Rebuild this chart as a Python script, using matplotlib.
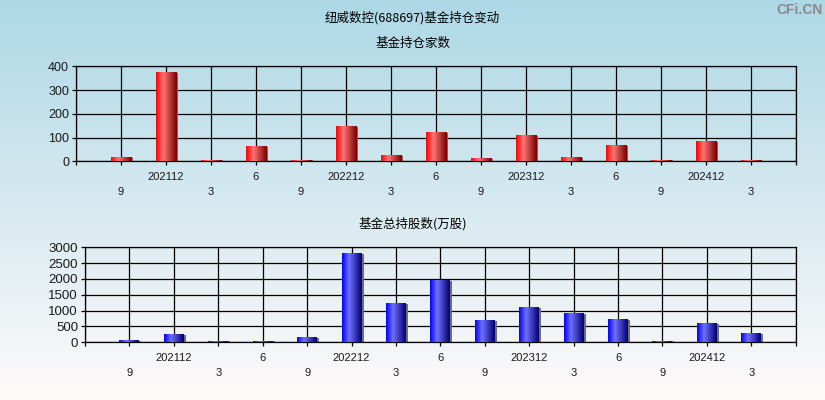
import numpy as np
import matplotlib.pyplot as plt
from matplotlib.colors import LinearSegmentedColormap

plt.rcParams['font.family'] = ['Noto Sans CJK SC', 'DejaVu Sans']

quarters = ['202109', '202112', '202203', '202206', '202209', '202212', '202303', '202306',
            '202309', '202312', '202403', '202406', '202409', '202412', '202503']
tick_labels = ['9', '202112', '3', '6', '9', '202212', '3', '6',
               '9', '202312', '3', '6', '9', '202412', '3']
fund_counts = [13, 372, 4, 60, 4, 146, 22, 119, 9, 106, 14, 64, 4, 81, 3]
fund_shares = [35, 225, 30, 30, 130, 2790, 1210, 1936, 673, 1083, 894, 704, 30, 578, 262]

title = '纽威数控(688697)基金持仓变动'
sub1 = '基金持仓家数'
sub2 = '基金总持股数(万股)'

red_cmap = LinearSegmentedColormap.from_list('r', [(0, '#ff0000'), (0.35, '#ff7575'), (1, '#780000')])
blue_cmap = LinearSegmentedColormap.from_list('b', [(0, '#0000ff'), (0.35, '#7070ff'), (1, '#00006e')])

fig = plt.figure(figsize=(8.25, 4), dpi=100)

# background gradient
bg = fig.add_axes([0, 0, 1, 1], zorder=-10)
grad = np.linspace(0, 1, 256).reshape(-1, 1)
bg_cmap = LinearSegmentedColormap.from_list('bg', ['#add8e6', '#fffafa'])
bg.imshow(grad, cmap=bg_cmap, aspect='auto', extent=(0, 1, 0, 1), origin='upper')
bg.axis('off')

fig.text(0.5, 1 - 18 / 400, title, ha='center', va='center', fontsize=9)
fig.text(0.5, 1 - 43 / 400, sub1, ha='center', va='center', fontsize=9)
fig.text(0.5, 1 - 224 / 400, sub2, ha='center', va='center', fontsize=9)
fig.text(0.997, 1 - 10 / 400, 'CFi.CN', ha='right', va='center', fontsize=10,
         color='#8a8a8a', fontweight='bold', family='Liberation Sans')


def draw_panel(rect, values, ymax, ystep, cmap, ysize):
    ax = fig.add_axes(rect)
    ax.patch.set_alpha(0)
    x = np.arange(len(values))
    w = 0.45
    ax.bar(x + 0.045, values, width=w, color='#6e6e6e', zorder=2)
    bars = ax.bar(x, values, width=w, color='none', zorder=3)
    hgrad = np.linspace(0, 1, 64).reshape(1, -1)
    for b in bars:
        x0, bw, h = b.get_x(), b.get_width(), b.get_height()
        ax.imshow(hgrad, cmap=cmap, aspect='auto', extent=(x0, x0 + bw, 0, h), zorder=3)
    ax.set_xlim(-1, len(values))
    ax.set_ylim(0, ymax)
    ax.set_yticks(np.arange(0, ymax + 1, ystep))
    ax.set_xticks(np.arange(-1, len(values) + 1))
    labs = [''] + [t if i % 2 else '\n' + t for i, t in enumerate(tick_labels)] + ['']
    ax.set_xticklabels(labs, fontsize=8, family='Liberation Sans', linespacing=1.6)
    for lab in ax.get_yticklabels():
        lab.set_fontsize(ysize)
        lab.set_family('Liberation Sans')
    ax.grid(True, color='black', linewidth=0.9, zorder=1)
    ax.set_axisbelow(True)
    for s in ax.spines.values():
        s.set_color('black')
        s.set_linewidth(0.9)
    ax.tick_params(axis='both', length=3, width=0.9, color='black', pad=2, labelcolor='#1a1a1a')
    ax.tick_params(axis='x', pad=5)
    return ax


draw_panel([76 / 825, 1 - 161.3 / 400, 719.7 / 825, 95 / 400], fund_counts, 400, 100, red_cmap, 9)
draw_panel([85 / 825, 1 - 342.3 / 400, 710.7 / 825, 95 / 400], fund_shares, 3000, 500, blue_cmap, 9.5)

fig.savefig('out.png', dpi=100)
